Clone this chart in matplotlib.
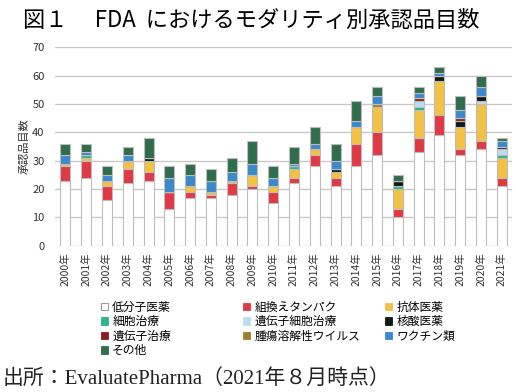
import numpy as np
import matplotlib
matplotlib.use("Agg")
import matplotlib.pyplot as plt
from matplotlib.patches import Patch

plt.rcParams['font.family'] = ['Noto Sans CJK JP', 'DejaVu Sans']

years = [f"{y}年" for y in range(2000, 2022)]
categories = ["低分子医薬", "組換えタンパク", "抗体医薬", "細胞治療", "遺伝子細胞治療",
              "核酸医薬", "遺伝子治療", "腫瘍溶解性ウイルス", "ワクチン類", "その他"]

small_molecule = [23, 24, 16, 22, 23, 13, 17, 17, 18, 20, 15, 22, 28, 21, 28, 32, 10, 33, 39, 32, 34, 21]
protein        = [5, 6, 5, 5, 3, 6, 2, 1, 4, 1, 4, 2, 4, 3, 8, 8, 3, 5, 7, 2, 3, 3]
antibody       = [1, 1, 2, 3, 4, 0, 2, 1, 1, 4, 2, 3, 2, 2, 6, 9, 7, 10, 12, 8, 13, 7]
cell_therapy   = [0, 1, 0, 0, 0, 0, 0, 0, 0, 0, 0, 1, 0, 0, 0, 0, 1, 1, 0, 0, 0, 1]
gene_cell      = [0, 0, 0, 0, 0, 0, 0, 0, 0, 0, 0, 0, 0, 0, 0, 0, 0, 2, 0, 0, 1, 2]
nucleic_acid   = [0, 0, 0, 0, 1, 0, 0, 0, 0, 0, 0, 0, 0, 1, 0, 0, 2, 0, 2, 2, 2, 1]
gene_therapy   = [0, 0, 0, 0, 0, 0, 0, 0, 0, 0, 0, 0, 0, 0, 0, 0, 0, 1, 0, 1, 0, 0]
oncolytic      = [0, 0, 0, 0, 0, 0, 0, 0, 0, 0, 0, 0, 0, 0, 0, 1, 0, 0, 0, 0, 0, 0]
vaccine        = [3, 1, 2, 2, 0, 5, 4, 4, 3, 4, 3, 1, 2, 3, 2, 3, 0, 2, 1, 3, 3, 2]
other          = [4, 3, 3, 3, 7, 4, 4, 4, 5, 8, 4, 6, 6, 6, 7, 3, 2, 2, 2, 5, 4, 1]

series = [small_molecule, protein, antibody, cell_therapy, gene_cell,
          nucleic_acid, gene_therapy, oncolytic, vaccine, other]
colors = ["#ffffff", "#e03844", "#f3c244", "#2db487", "#bcdcf2",
          "#0f1a12", "#8c1c20", "#a07d2c", "#3a89cc", "#2f6d4c"]

fig = plt.figure(figsize=(5.16, 3.92), dpi=100)
ax = fig.add_axes([0.1066, 0.373, 0.886, 0.506])

x = np.arange(len(years))
bottom = np.zeros(len(years))
for vals, c in zip(series, colors):
    vals = np.array(vals, dtype=float)
    ax.bar(x, vals, 0.48, bottom=bottom, color=c, edgecolor="#bdbdbd", linewidth=0.8, zorder=3)
    bottom += vals

ax.set_xlim(-0.5, len(years) - 0.5)
ax.set_ylim(0, 70)
ax.set_yticks(range(0, 71, 10))
ax.yaxis.grid(True, color="#c8c8c8", linewidth=1.0, zorder=0)
for s in ax.spines.values():
    s.set_visible(False)
ax.tick_params(length=0, labelsize=8, colors="#333333", pad=7.5)
ax.set_xticks(x)
ax.set_xticklabels(years, rotation=90, fontsize=7.5)
ax.tick_params(axis="x", pad=5)
ax.set_ylabel("承認品目数", fontsize=8, color="#333333", labelpad=2)

handles = [Patch(facecolor=c, edgecolor="#888888" if c == "#ffffff" else c, linewidth=0.6)
           for c in colors]
# legend laid out as three columns, row-major like the original
col_items = [[0, 3, 6, 9], [1, 4, 7], [2, 5, 8]]
col_x = [101, 243, 385]
for idx, cx in zip(col_items, col_x):
    fig.legend([handles[i] for i in idx], [categories[i] for i in idx],
               loc="upper left", bbox_to_anchor=(cx / 516, 0.233), frameon=False,
               fontsize=8.5, handlelength=0.6, handleheight=0.6, handletextpad=0.35,
               labelspacing=0.13, borderpad=0, borderaxespad=0)

fig.text(0.045, 0.978, "図１　 FDA  におけるモダリティ別承認品目数", fontsize=16, va="top", ha="left")
fig.text(0.005, 0.033, "出所：EvaluatePharma（2021年８月時点）", fontsize=15, va="center", ha="left",
         family=["Liberation Serif", "Noto Sans CJK JP"], color="#222222")

fig.savefig("out.png", dpi=100)
